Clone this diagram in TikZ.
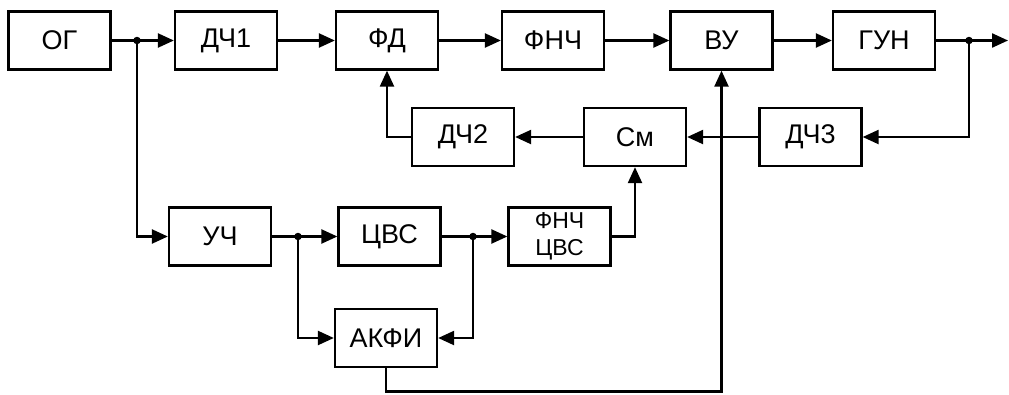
\documentclass[tikz,border=0pt]{standalone}
\usepackage{fontspec}
\setmainfont{Liberation Sans}
\usetikzlibrary{arrows.meta}
\begin{document}
\begin{tikzpicture}[x=1pt,y=-1pt,
  blk/.style={draw, line width=2.3pt, minimum width=102pt, minimum height=58pt, inner sep=0pt, font=\fontsize{27}{29}\selectfont},
  blks/.style={blk, font=\fontsize{23}{27}\selectfont, align=center},
  wire/.style={line width=2.3pt},
  arr/.style={wire, -{Triangle[length=16pt 0 0,width=14pt 0]}},
  jdot/.style={circle, fill, inner sep=0pt, minimum size=7.5pt}]
\useasboundingbox (0,0) rectangle (1009,394);
% row 1
\node[blk] (og)   at (59.5,40.5) {ОГ};
\node[blk] (dch1) at (226,40.5) {ДЧ1};
\node[blk] (fd)   at (387,40.5) {ФД};
\node[blk] (fnch) at (553,40.5) {ФНЧ};
\node[blk] (vu)   at (721.5,40.5) {ВУ};
\node[blk] (gun)  at (884,40.5) {ГУН};
% row 2
\node[blk] (dch2) at (463,137) {ДЧ2};
\node[blk] (sm)   at (635,137) {См};
\node[blk] (dch3) at (810.5,137) {ДЧ3};
% row 3
\node[blk] (uch)  at (220,236.5) {УЧ};
\node[blk] (cvs)  at (389.5,236.5) {ЦВС};
\node[blks] (fcvs) at (559.5,236.5) {ФНЧ\\ЦВС};
% row 4
\node[blk] (akfi) at (386,338) {АКФИ};
% junctions
\node[jdot] (j1) at (137,40.5) {};
\node[jdot] (j2) at (969,40.5) {};
\node[jdot] (j3) at (298,236.5) {};
\node[jdot] (j4) at (473,236.5) {};
\coordinate (out) at (1008,40.5);
\coordinate (bot) at (0,391.5);
% connectors
\draw[wire] (og.east) -- (j1.center);
\draw[arr] (j1.center) -- (dch1.west);
\draw[arr] (dch1.east) -- (fd.west);
\draw[arr] (fd.east) -- (fnch.west);
\draw[arr] (fnch.east) -- (vu.west);
\draw[arr] (vu.east) -- (gun.west);
\draw[wire] (gun.east) -- (j2.center);
\draw[arr] (j2.center) -- (out);
\draw[arr] (j2.center) |- (dch3.east);
\draw[arr] (dch3.west) -- (sm.east);
\draw[arr] (sm.west) -- (dch2.east);
\draw[arr] (dch2.west) -| (fd.south);
\draw[arr] (j1.center) |- (uch.west);
\draw[wire] (uch.east) -- (j3.center);
\draw[arr] (j3.center) -- (cvs.west);
\draw[wire] (cvs.east) -- (j4.center);
\draw[arr] (j4.center) -- (fcvs.west);
\draw[arr] (j3.center) |- (akfi.west);
\draw[arr] (j4.center) |- (akfi.east);
\draw[arr] (fcvs.east) -| (sm.south);
\draw[arr] (akfi.south) -- (akfi.south |- bot) -| (vu.south);
\end{tikzpicture}
\end{document}
